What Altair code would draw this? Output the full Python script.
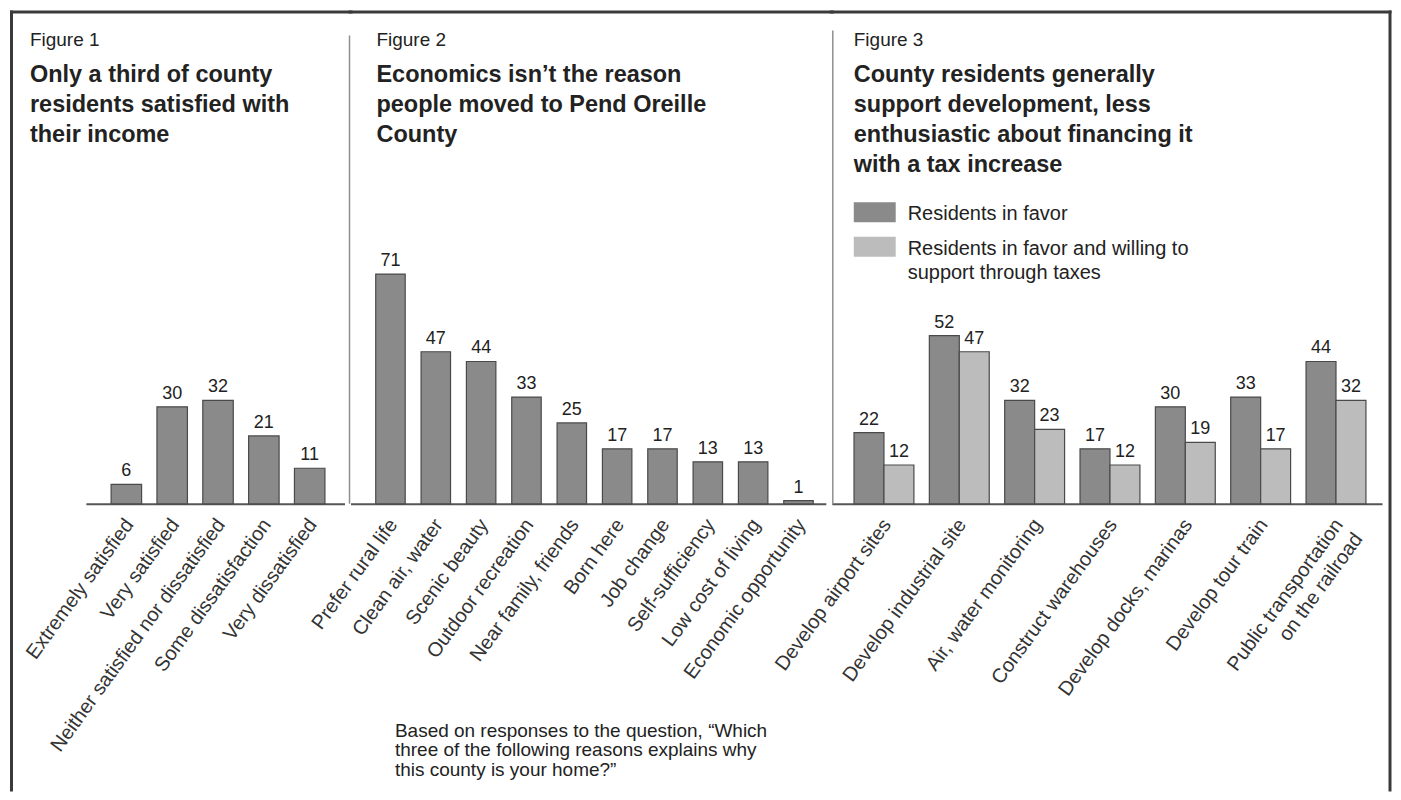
import altair as alt
import pandas as pd

FONT = "Liberation Sans"
INK = "#222222"
DARK = "#8a8a8a"
LIGHT = "#bcbcbc"
EDGE = "#4a4a4a"
FRAME = "#3a3a3a"
DIVIDER = "#8f8f8f"

# ---------------- data ----------------
fig1_cats = ["Extremely satisfied", "Very satisfied",
             "Neither satisfied nor dissatisfied", "Some dissatisfaction",
             "Very dissatisfied"]
fig1_vals = [6, 30, 32, 21, 11]

fig2_cats = ["Prefer rural life", "Clean air, water", "Scenic beauty",
             "Outdoor recreation", "Near family, friends", "Born here",
             "Job change", "Self-sufficiency", "Low cost of living",
             "Economic opportunity"]
fig2_vals = [71, 47, 44, 33, 25, 17, 17, 13, 13, 1]

fig3_cats = ["Develop airport sites", "Develop industrial site",
             "Air, water monitoring", "Construct warehouses",
             "Develop docks, marinas", "Develop tour train",
             "Public transportation\non the railroad"]
fig3_favor = [22, 52, 32, 17, 30, 33, 44]
fig3_taxes = [12, 47, 23, 12, 19, 17, 32]
fig3_series = ["Residents in favor",
               "Residents in favor and willing to support through taxes"]

titles = [
    ("Figure 1", ["Only a third of county", "residents satisfied with", "their income"]),
    ("Figure 2", ["Economics isn\u2019t the reason", "people moved to Pend Oreille", "County"]),
    ("Figure 3", ["County residents generally", "support development, less",
                  "enthusiastic about financing it", "with a tax increase"]),
]
footnote = ["Based on responses to the question, \u201cWhich",
            "three of the following reasons explains why",
            "this county is your home?\u201d"]

# ---------------- layout constants ----------------
H = 302
W1, W2, W3 = 259, 476, 551
YMAX = 93.2
TOP = -190.5
BOT = 590

one = pd.DataFrame({"k": [0]})
yscale = alt.Scale(domain=[0, YMAX], nice=False, zero=True)


def axis(**extra):
    base = dict(title=None, labelAngle=-54, labelAlign="right", labelBaseline="middle",
                labelFont=FONT, labelFontSize=20, labelColor="#333333",
                labelPadding=17, labelOffset=3, labelLimit=400, labelOverlap=False,
                ticks=False, domainColor="#555555", domainWidth=2, grid=False)
    base.update(extra)
    return alt.Axis(**base)


def title(i, dx, offset):
    t, sub = titles[i]
    return alt.TitleParams(text=t, subtitle=sub, anchor="start", frame="group", dx=dx,
                           offset=offset, font=FONT, fontSize=19, fontWeight="normal",
                           color=INK, subtitleFont=FONT, subtitleFontSize=23.5,
                           subtitleFontWeight="bold", subtitleColor=INK,
                           subtitleLineHeight=30, subtitlePadding=13)


def rule(color, width, **enc):
    return alt.Chart(one).mark_rule(color=color, strokeWidth=width).encode(**enc)


# ---------------- panel 1 ----------------
df1 = pd.DataFrame({"c1": fig1_cats, "v": fig1_vals})
base1 = alt.Chart(df1).encode(
    x=alt.X("c1:N", sort=fig1_cats,
            scale=alt.Scale(paddingInner=0.335, paddingOuter=0.489, align=0.563),
            axis=axis()),
    y=alt.Y("v:Q", scale=yscale, axis=None),
)
p1 = alt.layer(
    base1.mark_bar(color=DARK, stroke=EDGE, strokeWidth=1.2),
    base1.mark_text(baseline="alphabetic", dy=-8, font=FONT, fontSize=18, color=INK).encode(text="v:Q"),
    rule(FRAME, 3, x=alt.value(-76), x2=alt.value(W1 + 8), y=alt.value(TOP)),
    rule(FRAME, 3, x=alt.value(-74.5), y=alt.value(TOP - 1.5), y2=alt.value(BOT)),
).properties(width=W1, height=H, title=title(0, -56, -137.5))

# ---------------- panel 2 ----------------
df2 = pd.DataFrame({"c2": fig2_cats, "v": fig2_vals})
base2 = alt.Chart(df2).encode(
    x=alt.X("c2:N", sort=fig2_cats,
            scale=alt.Scale(paddingInner=0.35, paddingOuter=0.417, align=0.667),
            axis=axis(title=footnote, titleX=44, titleY=218, titleAlign="left",
                      titleBaseline="top", titleAngle=0, titleFont=FONT, titleFontSize=19,
                      titleFontWeight="normal", titleColor=INK, titleLineHeight=19.5)),
    y=alt.Y("v:Q", scale=yscale, axis=None),
)
p2 = alt.layer(
    base2.mark_bar(color=DARK, stroke=EDGE, strokeWidth=1.2),
    base2.mark_text(baseline="alphabetic", dy=-8, font=FONT, fontSize=18, color=INK).encode(text="v:Q"),
    rule(FRAME, 3, x=alt.value(-2), x2=alt.value(W2 + 8), y=alt.value(TOP)),
    rule(DIVIDER, 1.5, x=alt.value(-1), y=alt.value(-167), y2=alt.value(H)),
).properties(width=W2, height=H, title=title(1, 26, -136))

# ---------------- panel 3 ----------------
df3 = pd.DataFrame({
    "c3": fig3_cats + fig3_cats,
    "s": [fig3_series[0]] * len(fig3_cats) + [fig3_series[1]] * len(fig3_cats),
    "v": fig3_favor + fig3_taxes,
})
legend3 = alt.Legend(
    title=None, orient="none", legendX=22, legendY=-3, padding=0,
    symbolType="M-1,-0.86L1,-0.86L1,0.095L-1,0.095Z", symbolSize=1764,
    symbolStrokeWidth=0, symbolOpacity=1,
    labelFont=FONT, labelFontSize=20, labelColor=INK, labelOffset=12, labelLimit=500,
    labelBaseline="alphabetic", rowPadding=9.5,
    labelExpr="datum.label == '" + fig3_series[1] + "' ? ['Residents in favor and willing to', 'support through taxes'] : datum.label",
)
base3 = alt.Chart(df3).encode(
    x=alt.X("c3:N", sort=fig3_cats,
            scale=alt.Scale(paddingInner=0.205, paddingOuter=0.254, align=0.58),
            axis=axis(labelExpr="split(datum.label, '\\n')")),
    xOffset=alt.XOffset("s:N", sort=fig3_series, scale=alt.Scale(paddingInner=0, paddingOuter=0)),
    y=alt.Y("v:Q", scale=yscale, axis=None),
)
p3 = alt.layer(
    base3.mark_bar(stroke=EDGE, strokeWidth=1.2).encode(
        color=alt.Color("s:N", sort=fig3_series,
                        scale=alt.Scale(domain=fig3_series, range=[DARK, LIGHT]),
                        legend=legend3)),
    base3.mark_text(baseline="alphabetic", dy=-8, font=FONT, fontSize=18, color=INK).encode(text="v:Q"),
    rule(FRAME, 3, x=alt.value(-2), x2=alt.value(560.5), y=alt.value(TOP)),
    rule(FRAME, 3, x=alt.value(559), y=alt.value(TOP - 1.5), y2=alt.value(BOT)),
    rule(DIVIDER, 1.5, x=alt.value(1), y=alt.value(-172), y2=alt.value(H)),
).properties(width=W3, height=H, title=title(2, 22, -167.5))

chart = alt.hconcat(p1, p2, p3, spacing=6, bounds="flush").resolve_scale(
    x="independent", xOffset="independent", color="independent"
).properties(
    padding={"left": 0, "top": 0, "right": 0, "bottom": 0}, background="white"
).configure(
    font=FONT, style={"guide-label": {"lineHeight": 24}}
).configure_view(stroke=None)

chart.save("out.html", embed_options={"renderer": "svg", "actions": False})
